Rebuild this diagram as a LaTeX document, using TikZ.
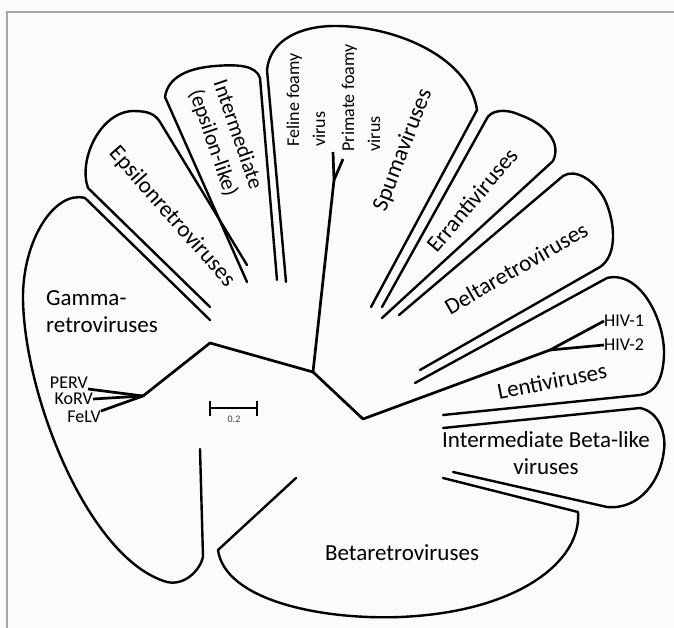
\documentclass[tikz,border=0pt]{standalone}
\usepackage{fontspec}
\setmainfont{Carlito}
\usetikzlibrary{calc}
\definecolor{framegray}{RGB}{165,165,165}
\definecolor{paper}{RGB}{251,251,253}
\tikzset{
  clade/.style={draw=black, line width=2.4pt, line join=round, line cap=round},
  branch/.style={draw=black, line width=2.7pt, line join=round},
  biglabel/.style={font=\fontsize{23}{27}\selectfont, align=center, inner sep=0pt},
  smalllabel/.style={font=\fontsize{18}{26}\selectfont, inner sep=0pt},
  barlabel/.style={font=\fontsize{10}{12}\selectfont, text=black!75, inner sep=0pt}
}

\begin{document}
\begin{tikzpicture}[x=1pt,y=-1pt]
        \fill[paper] (0,0) rectangle (674,628);
        \useasboundingbox (0,0) rectangle (674,628);
        \draw[framegray, line width=1.2pt] (7,628) -- (7,12) -- (674,12);

        \coordinate (root) at (313,372);
        \coordinate (gfork) at (210,343);
        \coordinate (gtip) at (143,396);
        \coordinate (sfork) at (334,180);
        \coordinate (ffv) at (333,152);
        \coordinate (pfv) at (343,159);
        \coordinate (lcorner) at (363,419);
        \coordinate (hfork) at (550,350);

        \node[smalllabel, anchor=south east] (perv) at (88,389) {PERV};
        \node[smalllabel, anchor=east] (korv) at (93,399) {KoRV};
        \node[smalllabel, anchor=north east] (felv) at (101,411) {FeLV};
        \node[smalllabel, anchor=west] (hiv1) at (604,321) {HIV-1};
        \node[smalllabel, anchor=west] (hiv2) at (604,345) {HIV-2};

        \draw[branch] (gtip) -- (gfork) -- (root) -- (sfork) -- (ffv);
        \draw[branch] (sfork) -- (pfv);
        \draw[branch] (root) -- (lcorner) -- (hfork) -- (hiv1.west);
        \draw[branch] (hfork) -- (hiv2.west);
        \draw[branch] (perv.south east) -- (gtip);
        \draw[branch] (korv.east) -- (gtip);
        \draw[branch] (felv.north east) -- (gtip);

        \draw[clade] (210,320) -- (85,198) .. controls (55,190) and (22,240) .. (23,300)
          .. controls (25,400) and (90,560) .. (167,582)
          .. controls (185,586) and (200,570) .. (203,557) -- (200,449);
        \draw[clade] (210,307) -- (88,188) .. controls (78,160) and (100,112) .. (133,111)
          .. controls (148,111) and (155,114) .. (160,122) -- (247,265);
        \draw[clade] (247,282) -- (165,97) .. controls (168,76) and (190,68) .. (215,66)
          .. controls (240,64) and (256,66) .. (260,78) -- (277,280);
        \draw[clade] (286,282) -- (267,70) .. controls (270,40) and (300,26) .. (335,26)
          .. controls (400,26) and (470,60) .. (477,110) -- (371,307);
        \draw[clade] (382,307) -- (486,120) .. controls (490,110) and (505,108) .. (520,115)
          .. controls (545,124) and (562,142) .. (553,161) -- (382,318);
        \draw[clade] (399,315) -- (563,176) .. controls (575,168) and (595,180) .. (605,200)
          .. controls (615,222) and (618,255) .. (600,267) -- (420,370);
        \draw[clade] (415,383) -- (607,278) .. controls (640,270) and (665,320) .. (664,355)
          .. controls (663,380) and (655,393) .. (640,395) -- (443,415);
        \draw[clade] (443,428) -- (640,408) .. controls (660,412) and (666,435) .. (664,450)
          .. controls (661,480) and (640,510) .. (607,507) -- (453,472);
        \draw[clade] (443,478) -- (578,512) .. controls (582,560) and (520,612) .. (400,617)
          .. controls (320,620) and (225,600) .. (218,550) -- (296,478);

        \node[biglabel, align=left, anchor=west] (gamma) at (46,312) {Gamma-\\retroviruses};
        \node[biglabel, rotate=-48.7] (epsilon) at (172,217) {Epsilonretroviruses};
        \node[biglabel, rotate=-71, font=\fontsize{21.5}{26}\selectfont] (inteps) at (225,139) {Intermediate\\(epsilon-like)};
        \node[smalllabel, rotate=90, align=left] (feline) at (306,100) {Feline foamy\\virus};
        \node[smalllabel, rotate=90, align=left] (primate) at (361,98) {Primate foamy\\virus};
        \node[biglabel, rotate=69] (spuma) at (403,150) {Spumaviruses};
        \node[biglabel, rotate=50] (errant) at (472,200) {Errantiviruses};
        \node[biglabel, rotate=30] (delta) at (516,268) {Deltaretroviruses};
        \node[biglabel, rotate=11] (lenti) at (552,381) {Lentiviruses};
        \node[biglabel] (intbeta) at (546,453) {Intermediate Beta-like\\viruses};
        \node[biglabel] (beta) at (402,553) {Betaretroviruses};

        \coordinate (sbl) at (210,408);
        \coordinate (sbr) at (257,408);
        \draw[branch, line width=2pt] (sbl) -- (sbr);
        \draw[branch, line width=2pt] ($(sbl)+(0,-7)$) -- ($(sbl)+(0,8)$);
        \draw[branch, line width=2pt] ($(sbr)+(0,-7)$) -- ($(sbr)+(0,8)$);
        \node[barlabel] (scale) at (234,419) {0.2};
      \end{tikzpicture}
\end{document}
